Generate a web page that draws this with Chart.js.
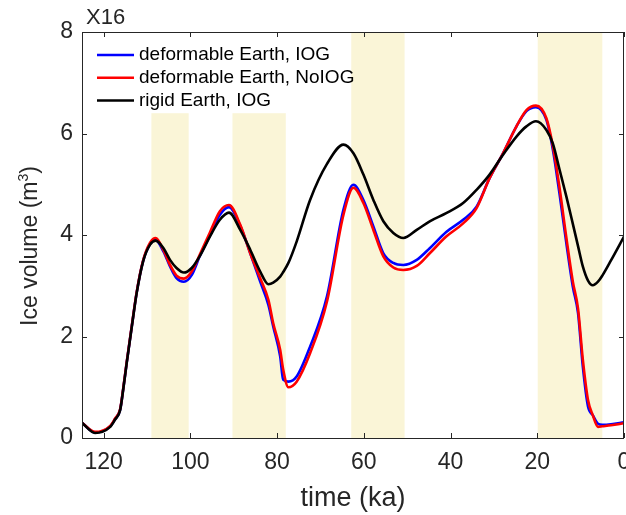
<!DOCTYPE html>
<html>
<head>
    <title>Ice volume</title>
    <script src="https://cdn.jsdelivr.net/npm/chart.js"></script>
    <style>
        body {
            margin: 0;
            background-color: white;
        }
        #iceChart {
            display: block;
        }
    </style>
</head>
<body>
    <canvas id="iceChart" width="626" height="515"></canvas>

    <script>
        // time axis (ka), shared by the three runs
        const timeKa = [125, 122, 118.5, 117.4, 116.2, 115.5, 114.7, 113.5, 112.4, 110.9, 109.3, 108, 106.2, 104.7, 103.2, 101.5, 99.7, 97.8, 95.5, 93.2,
            91.1, 88.5, 86.2, 83.9, 82, 80.9, 79.3, 78.6, 77.4, 75.5, 72.4, 68.5, 64.7, 62.4, 60.1, 57.8, 55.5, 53.2, 50.9, 47.8,
            44.8, 41, 37.1, 34, 31, 27.9, 24.8, 22.5, 20.3, 17.9, 16.4, 14.9, 13.3, 11.8, 10.6, 9.5, 8.3, 7.2, 6, 5, 3, 0];

        const deformIOG = [0.30, 0.11, 0.23, 0.37, 0.56, 0.96, 1.48, 2.21, 2.86, 3.49, 3.82, 3.90, 3.67, 3.38, 3.15, 3.08, 3.21, 3.59, 3.99, 4.40,
            4.55, 4.18, 3.64, 3.08, 2.62, 2.20, 1.61, 1.15, 1.11, 1.21, 1.80, 2.79, 4.50, 4.99, 4.69, 4.17, 3.64, 3.45, 3.41, 3.51,
            3.74, 4.06, 4.30, 4.56, 5.12, 5.61, 6.14, 6.44, 6.52, 6.27, 5.68, 4.83, 3.84, 2.98, 2.46, 1.41, 0.62, 0.45, 0.28, 0.26, 0.27, 0.31];

        const deformNoIOG = [0.30, 0.12, 0.24, 0.38, 0.57, 0.97, 1.49, 2.22, 2.87, 3.50, 3.85, 3.94, 3.70, 3.41, 3.20, 3.14, 3.28, 3.62, 4.05, 4.47,
            4.59, 4.20, 3.64, 3.15, 2.72, 2.26, 1.74, 1.35, 1.00, 1.11, 1.67, 2.69, 4.40, 4.93, 4.63, 4.10, 3.58, 3.36, 3.31, 3.39,
            3.64, 3.97, 4.23, 4.53, 5.12, 5.61, 6.14, 6.46, 6.55, 6.30, 5.75, 4.95, 3.95, 3.08, 2.55, 1.55, 0.75, 0.45, 0.22, 0.23, 0.25, 0.29];

        const rigidIOG = [0.30, 0.10, 0.22, 0.36, 0.55, 0.95, 1.47, 2.20, 2.85, 3.48, 3.81, 3.89, 3.74, 3.51, 3.35, 3.26, 3.35, 3.59, 3.97, 4.30,
            4.44, 4.10, 3.71, 3.28, 3.03, 3.06, 3.18, 3.27, 3.45, 3.87, 4.69, 5.40, 5.78, 5.61, 5.19, 4.69, 4.27, 4.04, 3.94, 4.10,
            4.27, 4.43, 4.63, 4.89, 5.19, 5.58, 5.94, 6.14, 6.24, 6.07, 5.80, 5.30, 4.76, 4.22, 3.78, 3.38, 3.10, 3.01, 3.08, 3.20, 3.50, 3.97];

        // shaded intervals (ka) and their heights
        const bandStart = [109, 90.3, 62.9, 19.9];
        const bandEnd = [100.4, 78.0, 50.6, 5.0];
        const bandTop = [6.4, 6.4, 8, 8];

        const xTicks = [120, 100, 80, 60, 40, 20, 0];
        const yTicks = [0, 2, 4, 6, 8];

        const seriesLabels = ['deformable Earth, IOG', 'deformable Earth, NoIOG', 'rigid Earth, IOG'];
        const seriesColors = ['rgb(0,0,255)', 'rgb(255,0,0)', 'rgb(0,0,0)'];

        const axisColor = '#262626';
        const fontFamily = "'Liberation Sans', Arial, Helvetica, sans-serif";

        function toPoints(values) {
            return timeKa.map((t, i) => ({ x: t, y: values[i] }));
        }

        const bandsPlugin = {
            id: 'bands',
            beforeDatasetsDraw(chart) {
                const { ctx, scales: { x, y } } = chart;
                ctx.save();
                ctx.fillStyle = 'rgb(250,245,215)';
                bandStart.forEach((s, i) => {
                    const x0 = x.getPixelForValue(s);
                    const x1 = x.getPixelForValue(bandEnd[i]);
                    const y0 = y.getPixelForValue(bandTop[i]);
                    const y1 = y.getPixelForValue(0);
                    ctx.fillRect(x0, y0, x1 - x0, y1 - y0);
                });
                ctx.restore();
            }
        };

        // matlab style box with inward ticks, the X16 exponent, y label and the legend
        const framePlugin = {
            id: 'frame',
            afterDatasetsDraw(chart) {
                const { ctx, chartArea: a, scales: { x, y } } = chart;
                ctx.save();
                ctx.strokeStyle = axisColor;
                ctx.lineWidth = 1;
                ctx.strokeRect(a.left + 0.5, a.top + 0.5, a.right - a.left - 1, a.bottom - a.top);
                ctx.beginPath();
                xTicks.forEach(v => {
                    const px = Math.round(x.getPixelForValue(v)) + 0.5;
                    ctx.moveTo(px, a.bottom);
                    ctx.lineTo(px, a.bottom - 5);
                    ctx.moveTo(px, a.top);
                    ctx.lineTo(px, a.top + 5);
                });
                yTicks.forEach(v => {
                    const py = Math.round(y.getPixelForValue(v)) + 0.5;
                    ctx.moveTo(a.left, py);
                    ctx.lineTo(a.left + 5, py);
                    ctx.moveTo(a.right, py);
                    ctx.lineTo(a.right - 5, py);
                });
                ctx.stroke();

                ctx.fillStyle = axisColor;
                ctx.font = '22px ' + fontFamily;
                ctx.textBaseline = 'alphabetic';
                ctx.fillText('X16', a.left + 4, a.top - 8);

                // y label with a raised small 3
                ctx.save();
                ctx.translate(37, 246);
                ctx.rotate(-Math.PI / 2);
                const mainFont = '23px ' + fontFamily;
                const supFont = '14px ' + fontFamily;
                ctx.font = mainFont;
                const w1 = ctx.measureText('Ice volume (m').width;
                const w3 = ctx.measureText(')').width;
                ctx.font = supFont;
                const w2 = ctx.measureText('3').width;
                let tx = -(w1 + w2 + w3) / 2;
                ctx.font = mainFont;
                ctx.fillText('Ice volume (m', tx, 0);
                tx += w1;
                ctx.font = supFont;
                ctx.fillText('3', tx, -9);
                tx += w2;
                ctx.font = mainFont;
                ctx.fillText(')', tx, 0);
                ctx.restore();

                // legend
                ctx.font = '19px ' + fontFamily;
                ctx.textBaseline = 'middle';
                seriesLabels.forEach((label, i) => {
                    const ly = a.top + 23 + i * 22.8;
                    ctx.strokeStyle = seriesColors[i];
                    ctx.lineWidth = 2.5;
                    ctx.beginPath();
                    ctx.moveTo(a.left + 15, ly);
                    ctx.lineTo(a.left + 52, ly);
                    ctx.stroke();
                    ctx.fillStyle = 'black';
                    ctx.fillText(label, a.left + 57, ly);
                });
                ctx.restore();
            }
        };

        const ctx = document.getElementById('iceChart').getContext('2d');

        const iceChart = new Chart(ctx, {
            type: 'line',
            data: {
                datasets: [{
                    label: seriesLabels[0],
                    data: toPoints(deformIOG),
                    borderColor: seriesColors[0],
                    order: 2
                }, {
                    label: seriesLabels[1],
                    data: toPoints(deformNoIOG),
                    borderColor: seriesColors[1],
                    order: 1
                }, {
                    label: seriesLabels[2],
                    data: toPoints(rigidIOG),
                    borderColor: seriesColors[2],
                    order: 0
                }]
            },
            options: {
                responsive: false,
                animation: false,
                devicePixelRatio: 1,
                layout: {
                    padding: { top: 32, right: 2, left: 0, bottom: 0 }
                },
                elements: {
                    point: { radius: 0 },
                    line: { borderWidth: 2.6, cubicInterpolationMode: 'monotone', fill: false }
                },
                plugins: {
                    legend: { display: false },
                    tooltip: { enabled: false }
                },
                scales: {
                    x: {
                        type: 'linear',
                        min: 0,
                        max: 125,
                        reverse: true,
                        grid: { display: false, drawTicks: false },
                        border: { display: false },
                        afterBuildTicks: scale => { scale.ticks = xTicks.map(v => ({ value: v })); },
                        afterFit: scale => {
                            scale.height = 77;
                            scale.paddingLeft = 0;
                            scale.paddingRight = 0;
                        },
                        ticks: {
                            color: axisColor,
                            padding: 11,
                            maxRotation: 0,
                            font: { family: fontFamily, size: 23 }
                        },
                        title: {
                            display: true,
                            text: 'time (ka)',
                            color: axisColor,
                            padding: { top: 0, bottom: 0 },
                            font: { family: fontFamily, size: 27 }
                        }
                    },
                    y: {
                        min: 0,
                        max: 8,
                        grid: { display: false, drawTicks: false },
                        border: { display: false },
                        afterBuildTicks: scale => { scale.ticks = yTicks.map(v => ({ value: v })); },
                        afterFit: scale => {
                            scale.width = 82;
                            scale.paddingTop = 0;
                            scale.paddingBottom = 0;
                        },
                        ticks: {
                            color: axisColor,
                            padding: 9,
                            font: { family: fontFamily, size: 23 }
                        }
                    }
                }
            },
            plugins: [bandsPlugin, framePlugin]
        });
    </script>
</body>
</html>
